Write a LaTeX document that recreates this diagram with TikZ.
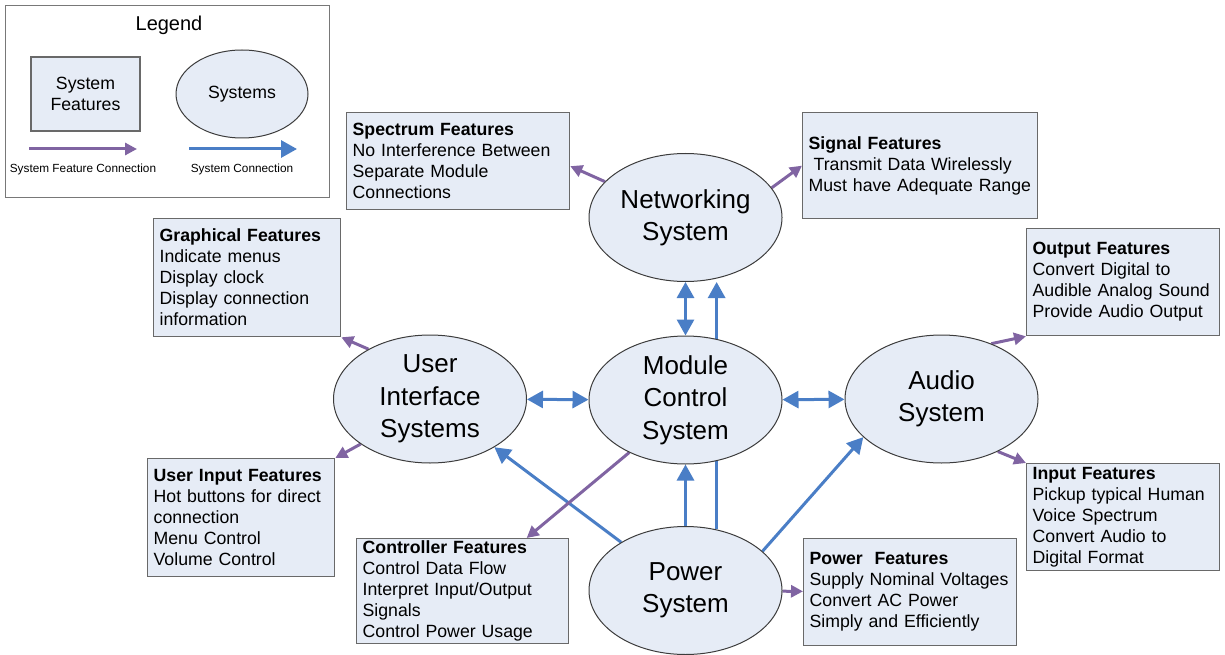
\documentclass[tikz,border=0pt]{standalone}
\usepackage{fontspec}
\setmainfont{Liberation Sans}
\usetikzlibrary{arrows.meta,positioning,calc,shapes.geometric,backgrounds}
\definecolor{sysblue}{RGB}{74,126,198}
\definecolor{featpurple}{RGB}{128,100,162}
\definecolor{boxfill}{RGB}{230,236,246}
\definecolor{boxline}{RGB}{105,105,105}
\definecolor{ovalline}{RGB}{60,60,60}
\definecolor{legendline}{RGB}{120,120,120}
\newcommand{\boxfont}{\fontsize{17.7}{21}\selectfont}
\newcommand{\ovalfont}{\fontsize{26}{32.3}\selectfont}
\tikzset{
  featbox/.style={draw=boxline, fill=boxfill, line width=1.3pt, anchor=north west,
                  align=left, inner xsep=6pt, inner ysep=0pt, font=\boxfont},
  sysoval/.style={ellipse, draw=ovalline, fill=boxfill, line width=1pt, minimum width=193pt,
                  minimum height=128pt, inner sep=0pt, align=center, font=\ovalfont},
  sysflow/.style={-{Triangle[length=16pt,width=17pt]}, line width=3pt, draw=sysblue},
  sysboth/.style={arrows={Triangle[length=16pt,width=17pt]-Triangle[length=16pt,width=17pt]},
                  line width=3pt, draw=sysblue},
  featflow/.style={-{Triangle[length=12pt,width=12pt]}, line width=3pt, draw=featpurple},
}
\begin{document}
\begin{tikzpicture}[x=1pt, y=-1pt]
  \useasboundingbox (0,0) rectangle (1225,655);
  \node[draw=legendline, line width=1.2pt, fill=white, anchor=north west, inner sep=0pt,
        minimum width=324pt, minimum height=192pt] (legend) at (5,5) {};
  \node[font=\fontsize{20}{24}\selectfont] (legtitle) at (169,25) {Legend};
  \node[featbox, anchor=center, align=center, text width=97pt, minimum height=74pt] (legbox) at (85.5,94) {System\\Features};
  \node[sysoval, minimum width=132pt, minimum height=88pt, font=\boxfont] (legoval) at (242,94) {Systems};
  \coordinate (lfa) at (29,149); \coordinate (lfb) at (137,149);
  \coordinate (lsa) at (189,149); \coordinate (lsb) at (297,149);
  \draw[featflow] (lfa) -- (lfb); \draw[sysflow] (lsa) -- (lsb);
  \node[font=\fontsize{11.8}{14}\selectfont] (lfl) at (83,169) {System Feature Connection};
  \node[font=\fontsize{11.8}{14}\selectfont] (lsl) at (242,169) {System Connection};

  \node[featbox, text width=211pt, minimum height=97pt] (spec) at (346,112)
    {\textbf{Spectrum Features}\\No Interference Between\\Separate Module\\Connections};
  \node[featbox, text width=223pt, minimum height=106pt] (sig) at (802,112)
    {\textbf{Signal Features}\\\hspace*{5pt}Transmit Data Wirelessly\\Must have Adequate Range};
  \node[featbox, text width=175pt, minimum height=118pt] (gfx) at (153,218)
    {\textbf{Graphical Features}\\Indicate menus\\Display clock\\Display connection\\information};
  \node[featbox, text width=175pt, minimum height=118pt] (uin) at (147,458)
    {\textbf{User Input Features}\\Hot buttons for direct\\connection\\Menu Control\\Volume Control};
  \node[featbox, text width=200pt, minimum height=105pt] (ctl) at (356,538)
    {\textbf{Controller Features}\\Control Data Flow\\Interpret Input/Output\\Signals\\Control Power Usage};
  \node[featbox, text width=201pt, minimum height=107pt] (pwf) at (803,538)
    {\textbf{Power\ \ Features}\\Supply Nominal Voltages\\Convert AC Power\\Simply and Efficiently};
  \node[featbox, text width=181pt, minimum height=107pt] (outf) at (1026,228)
    {\textbf{Output Features}\\Convert Digital to\\Audible Analog Sound\\Provide Audio Output};
  \node[featbox, text width=181pt, minimum height=107pt] (inf) at (1026,463)
    {\textbf{Input Features}\\Pickup typical Human\\Voice Spectrum\\Convert Audio to\\Digital Format};

  \node[sysoval] (net) at (685.5,217.5) {Networking\\System};
  \node[sysoval] (mcs) at (685.5,400) {Module\\Control\\System};
  \node[sysoval] (uis) at (430,399) {User\\Interface\\Systems};
  \node[sysoval] (aud) at (941.5,399) {Audio\\System};
  \node[sysoval] (pow) at (685.5,590.5) {Power\\System};

  \begin{scope}[on background layer]
    \draw[sysboth] (uis) -- (mcs); \draw[sysboth] (mcs) -- (aud); \draw[sysboth] (net) -- (mcs);
    \draw[sysflow] (pow.63) -- (net.south -| pow.63);
    \draw[sysflow] (pow) -- (mcs); \draw[sysflow] (pow) -- (uis); \draw[sysflow] (pow.27) -- (aud.206);
    \draw[featflow] (net.156) -- ([yshift=-5pt]spec.east);
    \draw[featflow] (net.19) -- (sig.west);
    \draw[featflow] (uis.141) -- (gfx.south east);
    \draw[featflow] (uis.213) -- (uin.north east);
    \draw[featflow] (mcs.223) -- ($(ctl.north west)!0.8!(ctl.north east)$);
    \draw[featflow] (pow) -- (pwf);
    \draw[featflow] (aud.48) -- (outf.south west);
    \draw[featflow] (aud.317) -- (inf.north west);
  \end{scope}
\end{tikzpicture}
\end{document}
